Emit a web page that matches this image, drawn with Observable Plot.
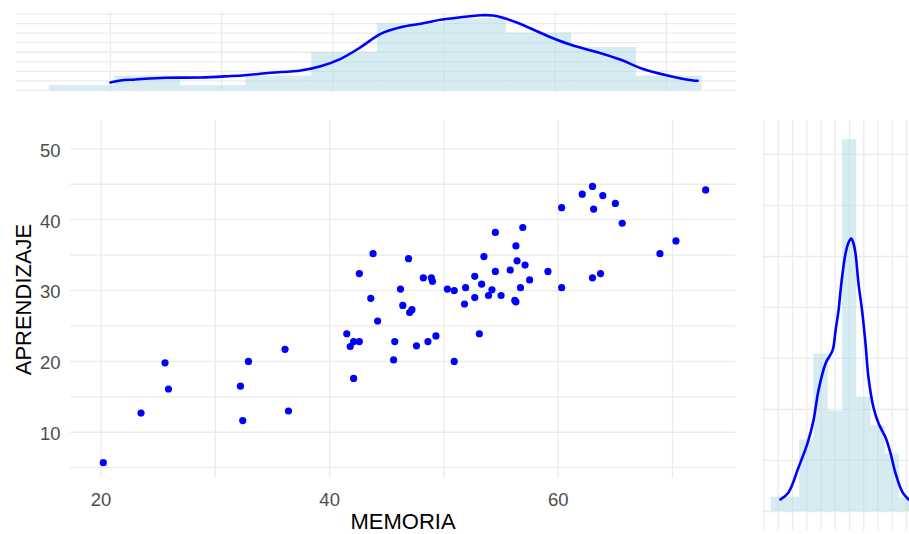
<!DOCTYPE html>
<html>
<head>
<meta charset="utf-8">
<script src="https://cdn.jsdelivr.net/npm/d3@7"></script>
<script src="https://cdn.jsdelivr.net/npm/@observablehq/plot@0.6"></script>
<style>
  body { margin: 0; background: #fff; }
  #chart { position: relative; width: 909px; height: 534px; overflow: hidden; background: #fff;
           font-family: "Liberation Sans", Arial, sans-serif; }
  #chart > svg { position: absolute; }
</style>
</head>
<body>
<div id="chart"></div>
<script>
// Scores per student
const memoria = [
  20.2, 23.5, 25.6, 25.9, 32.2, 32.4, 32.9, 36.1, 36.4, 41.5, 41.8, 42.1, 42.6, 42.1, 42.6, 43.8, 43.6, 44.2,
  46.9, 46.2, 46.4, 47.2, 47.0, 45.7, 45.6, 47.6, 48.6, 49.3, 48.2, 48.9, 49.0, 50.3, 50.9, 50.9, 51.8, 51.9,
  52.7, 52.7, 53.3, 53.5, 53.1, 53.9, 54.2, 54.5, 54.5, 55.0, 55.8, 56.3, 56.4, 57.1, 56.9, 56.7, 57.5, 56.2,
  56.3, 59.1, 60.3, 60.3, 62.1, 63.0, 63.9, 63.1, 65.0, 65.6, 63.0, 63.7, 68.9, 70.3, 72.9
];
const aprendizaje = [
  5.7, 12.7, 19.8, 16.1, 16.5, 11.65, 20.0, 21.7, 13.0, 23.9, 22.1, 22.8, 22.8, 17.6, 32.4, 35.2, 28.9, 25.7,
  34.5, 30.2, 27.9, 27.3, 26.9, 22.8, 20.2, 22.2, 22.8, 23.6, 31.8, 31.8, 31.3, 30.2, 30.0, 20.0, 28.1, 30.4,
  32.0, 29.0, 30.9, 34.8, 23.9, 29.3, 30.1, 32.7, 38.2, 29.3, 32.9, 36.3, 34.2, 33.6, 38.9, 30.4, 31.5, 28.6,
  28.4, 32.7, 30.4, 41.7, 43.6, 44.7, 43.4, 41.5, 42.3, 39.5, 31.8, 32.4, 35.2, 37.0, 44.2
];

// Main panel ticks
const xGrid = [20, 30, 40, 50, 60, 70];
const yGrid = [5, 10, 15, 20, 25, 30, 35, 40, 45, 50];
const xTickLabels = [20, 40, 60];
const yTickLabels = [10, 20, 30, 40, 50];
const xTitle = "MEMORIA";
const yTitle = "APRENDIZAJE";

// Top margin: MEMORIA histogram (counts) and density outline
const memoriaBinEdges = [14.5, 20.4, 26.3, 32.2, 38.1, 44.0, 49.9, 55.6, 61.5, 67.3, 73.2];
const memoriaBinCounts = [1, 3, 1, 3, 8, 14, 15, 12, 9, 3];
const memoriaDensX = [20.0, 20.9, 22.25, 24.95, 28.1, 30.6, 32.1, 34.4, 37.1, 38.9, 40.7, 42.5, 44.3, 46.1,
  47.9, 49.7, 51.5, 53.3, 54.4, 55.3, 56.6, 58.0, 59.8, 61.6, 63.8, 65.9, 67.7, 70.1, 72.4, 72.8];
const memoriaDensY = [1.67, 2.09, 2.30, 2.66, 2.72, 2.99, 3.20, 3.70, 4.18, 5.08, 6.63, 9.06, 11.86, 13.24,
  13.95, 14.79, 15.33, 15.75, 15.69, 15.21, 14.16, 12.76, 10.94, 9.41, 8.01, 6.42, 4.67, 3.14, 2.09, 2.03];
const topGridX = [20, 30, 40, 50, 60, 70];
const topGridY = [0, 2, 4, 6, 8, 10, 12, 14, 16];

// Right margin: APRENDIZAJE histogram by bin (counts) and density outline
const aprBinEdges = [0.5, 1.5, 2.5, 3.5, 4.5, 5.5, 6.5, 7.5, 8.5, 9.5, 10.5];
const aprBinCounts = [1, 1, 5, 11, 7, 26, 8, 6, 4, 1];
const aprDensX = [1.16, 1.72, 2.42, 3.05, 3.47, 3.82, 4.32, 4.81, 5.02, 5.23, 5.37, 5.51, 5.72, 5.93, 6.12,
  6.28, 6.42, 6.63, 6.88, 7.12, 7.33, 7.68, 8.04, 8.53, 8.88, 9.23, 9.72, 10.14];
const aprDensY = [0.84, 1.33, 3.08, 4.76, 6.36, 8.46, 10.35, 11.26, 12.66, 14.06, 15.45, 16.64, 18.04, 18.81,
  19.09, 18.74, 18.04, 15.94, 14.06, 11.75, 9.37, 7.27, 6.15, 5.17, 4.06, 2.66, 1.33, 0.84];
const rightGridX = [0, 1, 2, 3, 4, 5, 6, 7, 8, 9, 10];
const rightGridY = [0, 3.57, 7.13, 10.7, 14.27, 17.83, 21.4, 24.97];

const gridStyle = { stroke: "#ebebeb", strokeWidth: 1.3 };
const barStyle = { fill: "lightblue", fillOpacity: 0.5 };
const lineStyle = { stroke: "blue", strokeWidth: 2.6, curve: "catmull-rom" };
const plotStyle = { background: "transparent", overflow: "visible", fontFamily: "Liberation Sans, Arial, sans-serif" };

const chart = document.getElementById("chart");
function place(svg, left, top) {
  svg.style.left = left + "px";
  svg.style.top = top + "px";
  chart.appendChild(svg);
}

// Scatter of MEMORIA vs APRENDIZAJE
const points = memoria.map((m, i) => ({ memoria: m, aprendizaje: aprendizaje[i] }));
place(Plot.plot({
  width: 745, height: 424,
  marginLeft: 70, marginRight: 10, marginTop: 10, marginBottom: 56,
  x: { domain: [17.33, 75.51], axis: null },
  y: { domain: [3.47, 54.0], axis: null },
  style: plotStyle,
  marks: [
    Plot.ruleX(xGrid, gridStyle),
    Plot.ruleY(yGrid, gridStyle),
    Plot.dot(points, { x: "memoria", y: "aprendizaje", r: 3.6, fill: "blue", stroke: "none" }),
    Plot.text(xTickLabels, { x: d => d, text: d => String(d), frameAnchor: "bottom", lineAnchor: "middle",
      dy: 22, fontSize: 18.5, fill: "#4d4d4d" }),
    Plot.text(yTickLabels, { y: d => d, text: d => String(d), frameAnchor: "left", lineAnchor: "middle",
      dx: -10, dy: 2, textAnchor: "end", fontSize: 18.5, fill: "#4d4d4d" }),
    Plot.text([xTitle], { text: d => d, frameAnchor: "bottom", lineAnchor: "middle", textAnchor: "middle",
      dy: 43, fontSize: 22, fill: "black" }),
    Plot.text([yTitle], { text: d => d, frameAnchor: "left", lineAnchor: "middle", textAnchor: "middle",
      dx: -47, rotate: -90, fontSize: 22, fill: "black" })
  ]
}), 0, 110);

// Top margin: histogram + density of MEMORIA
const topBins = memoriaBinCounts.map((c, i) => ({ x1: memoriaBinEdges[i], x2: memoriaBinEdges[i + 1], count: c }));
const topDens = memoriaDensX.map((x, i) => ({ x, y: memoriaDensY[i] }));
place(Plot.plot({
  width: 720, height: 80, margin: 0,
  x: { domain: [11.55, 76.3], axis: null },
  y: { domain: [-0.42, 16.32], axis: null },
  style: plotStyle,
  marks: [
    Plot.ruleY(topGridY, gridStyle),
    Plot.ruleX(topGridX, gridStyle),
    Plot.rectY(topBins, { x1: "x1", x2: "x2", y: "count", ...barStyle }),
    Plot.line(topDens, { x: "x", y: "y", ...lineStyle })
  ]
}), 16, 12);

// Right margin: histogram + density of APRENDIZAJE
const rightBins = aprBinCounts.map((c, i) => ({ x1: aprBinEdges[i], x2: aprBinEdges[i + 1], count: c }));
const rightDens = aprDensX.map((x, i) => ({ x, y: aprDensY[i] }));
place(Plot.plot({
  width: 163, height: 410, margin: 0,
  x: { domain: [-0.105, 11.33], axis: null },
  y: { domain: [-1.33, 27.34], axis: null },
  style: plotStyle,
  marks: [
    Plot.ruleY(rightGridY, gridStyle),
    Plot.ruleX(rightGridX, gridStyle),
    Plot.rectY(rightBins, { x1: "x1", x2: "x2", y: "count", ...barStyle }),
    Plot.line(rightDens, { x: "x", y: "y", ...lineStyle })
  ]
}), 762, 120);
</script>
</body>
</html>
